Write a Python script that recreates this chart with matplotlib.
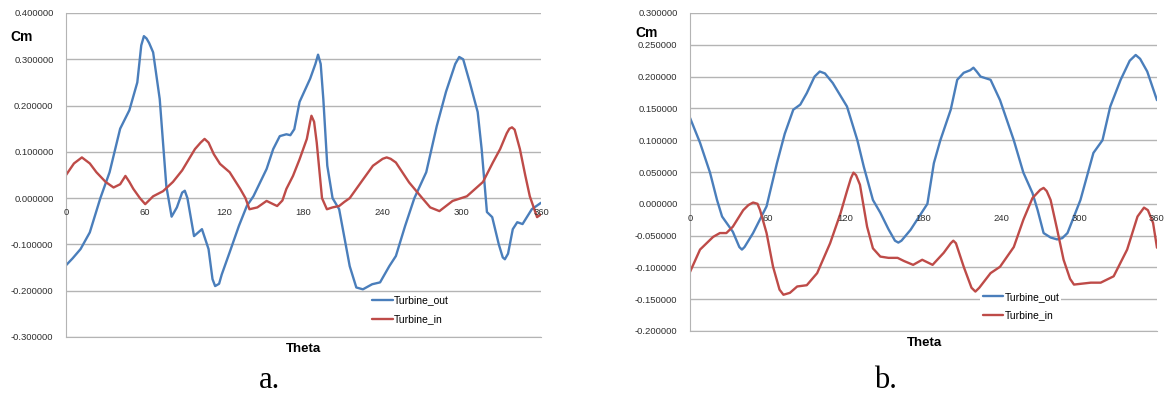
import matplotlib.pyplot as plt

# --- grafico a: Cm x Theta ---
theta_a_out = [0, 5, 11, 18, 26, 33, 41, 48, 54, 57, 59, 61, 63, 66, 71, 76, 80, 84,
               88, 90, 92, 97, 103, 108, 111, 113, 116, 118, 124, 131, 137, 142, 152,
               157, 162, 167, 170, 173, 177, 185, 189, 191, 193, 195, 198, 202, 207,
               215, 220, 225, 232, 238, 245, 250, 257, 264, 273, 281, 288, 295, 298,
               301, 306, 312, 315, 319, 323, 328, 331, 332.6, 335, 338.6, 342, 346,
               353, 360]
cm_a_out = [-0.145, -0.13, -0.11, -0.074, 0.0, 0.056, 0.15, 0.19, 0.25, 0.33, 0.35,
            0.345, 0.335, 0.315, 0.214, 0.026, -0.04, -0.02, 0.012, 0.016, 0.0,
            -0.082, -0.067, -0.11, -0.175, -0.19, -0.185, -0.165, -0.117, -0.06,
            -0.017, 0.004, 0.063, 0.106, 0.134, 0.138, 0.136, 0.149, 0.208, 0.258,
            0.29, 0.31, 0.29, 0.214, 0.07, 0.0, -0.024, -0.147, -0.193, -0.197,
            -0.186, -0.182, -0.147, -0.125, -0.06, 0.0, 0.056, 0.156, 0.23, 0.29,
            0.305, 0.3, 0.25, 0.186, 0.106, -0.03, -0.041, -0.1, -0.128, -0.132,
            -0.12, -0.067, -0.052, -0.056, -0.024, -0.01]

theta_a_in = [0, 6, 12, 18, 23, 30, 36, 41, 45, 48, 51, 56, 60, 66, 73.5, 81, 88,
              97.7, 102, 105, 108, 112, 116.7, 124, 132, 136, 139, 145, 152, 157, 160,
              164, 167, 172, 177, 182.5, 185, 186, 188, 190, 194, 197.7, 202, 207, 211,
              215, 225, 232.6, 240, 243, 246, 250, 260, 270, 276, 283, 293, 303.8, 316,
              323.5, 329, 334, 336, 338, 340, 344, 348, 351.5, 357, 360]
cm_a_in = [0.05, 0.075, 0.088, 0.075, 0.056, 0.035, 0.023, 0.03, 0.048, 0.035, 0.02,
           0.0, -0.013, 0.004, 0.015, 0.035, 0.06, 0.106, 0.12, 0.128, 0.12, 0.095,
           0.074, 0.056, 0.02, 0.0, -0.024, -0.02, -0.006, -0.013, -0.017, -0.005, 0.02,
           0.048, 0.084, 0.128, 0.165, 0.178, 0.165, 0.12, 0.0, -0.024, -0.02, -0.017,
           -0.008, 0.0, 0.04, 0.07, 0.085, 0.088, 0.085, 0.077, 0.034, 0.0, -0.02,
           -0.028, -0.006, 0.004, 0.035, 0.077, 0.106, 0.14, 0.15, 0.153, 0.148, 0.106,
           0.05, 0.004, -0.041, -0.035]

# --- grafico b ---
theta_b_out = [0, 7.7, 15.4, 20.8, 24.7, 33, 38, 40, 42, 48.6, 59, 67, 73, 79.6, 85,
               90, 96, 100, 104, 110, 121, 129, 134, 141, 146.7, 153, 158, 160.6, 163,
               170, 183, 188, 193, 201, 206, 211, 216, 218.5, 221, 224, 231.7, 239,
               249.6, 257, 264, 268, 272.6, 278, 283, 287, 291, 301, 311, 318, 324, 332,
               339, 343.6, 347, 352.5, 360]
cm_b_out = [0.135, 0.096, 0.049, 0.006, -0.02, -0.044, -0.068, -0.072, -0.068, -0.046,
            -0.004, 0.064, 0.11, 0.148, 0.156, 0.174, 0.2, 0.208, 0.205, 0.19, 0.153,
            0.1, 0.058, 0.006, -0.014, -0.04, -0.058, -0.061, -0.058, -0.041, 0.0,
            0.064, 0.1, 0.148, 0.195, 0.206, 0.21, 0.214, 0.208, 0.2, 0.195, 0.163,
            0.1, 0.049, 0.017, -0.01, -0.046, -0.053, -0.056, -0.054, -0.046, 0.006,
            0.08, 0.1, 0.153, 0.195, 0.225, 0.234, 0.228, 0.208, 0.163]

theta_b_in = [0, 7.7, 17.8, 23, 28, 33, 41, 45, 48.6, 52, 54, 59, 64, 69, 72, 77,
              82.6, 90, 98, 108, 116, 121, 124, 126, 128, 131, 136.5, 141, 146.7, 153,
              160, 165, 172, 179, 187, 195.6, 201, 203, 205, 211, 217, 220, 223, 231.7,
              239, 249.6, 257, 264, 270, 272.6, 275, 278, 283, 288, 293, 296, 309, 316.6,
              326.6, 337, 345, 350, 353, 357, 360]
cm_b_in = [-0.107, -0.072, -0.052, -0.046, -0.046, -0.036, -0.01, -0.002, 0.002,
           0.0, -0.01, -0.046, -0.099, -0.135, -0.143, -0.14, -0.13, -0.128, -0.109,
           -0.062, -0.015, 0.02, 0.04, 0.049, 0.045, 0.03, -0.036, -0.07, -0.083,
           -0.085, -0.085, -0.09, -0.096, -0.088, -0.096, -0.077, -0.062, -0.058,
           -0.062, -0.099, -0.132, -0.138, -0.132, -0.109, -0.099, -0.068, -0.025,
           0.009, 0.022, 0.025, 0.02, 0.006, -0.04, -0.088, -0.118, -0.127, -0.124,
           -0.124, -0.114, -0.072, -0.02, -0.006, -0.01, -0.03, -0.069]

xticks = [0, 60, 120, 180, 240, 300, 360]
yticks_a = [-0.3, -0.2, -0.1, 0.0, 0.1, 0.2, 0.3, 0.4]
yticks_b = [-0.2, -0.15, -0.1, -0.05, 0.0, 0.05, 0.1, 0.15, 0.2, 0.25, 0.3]

azul = '#4a7ebb'
vermelho = '#be4b48'
cinza = '#b4b4b4'

plt.rcParams['font.family'] = ['Liberation Sans', 'DejaVu Sans']

fig = plt.figure(figsize=(11.67, 4.0), dpi=100)
ax_a = fig.add_axes([0.0566, 0.1575, 0.407, 0.81])
ax_b = fig.add_axes([0.5913, 0.1725, 0.4001, 0.795])


def monta_eixo(ax, yticks, leg_pos):
    ax.set_xlim(0, 360)
    ax.set_ylim(yticks[0], yticks[-1])
    ax.set_yticks(yticks)
    ax.set_yticklabels(['%.6f' % v for v in yticks], fontsize=6.8, color='#303030')
    ax.set_xticks([])
    ax.tick_params(axis='y', length=0, pad=9)
    ax.grid(axis='y', color=cinza, lw=1.0)
    ax.set_axisbelow(True)
    for lado in ['top', 'right']:
        ax.spines[lado].set_visible(False)
    ax.spines['left'].set_color(cinza)
    ax.spines['bottom'].set_color(cinza)
    # rotulos do eixo x logo abaixo da linha do zero
    for t in xticks:
        ax.annotate(str(t), (t, 0), xytext=(0, -10.5), textcoords='offset points',
                    ha='center', va='center', fontsize=6.8, color='#303030')
    leg = ax.legend(loc='upper left', bbox_to_anchor=leg_pos, fontsize=7.5,
                    frameon=True, borderpad=0.2, borderaxespad=0, handlelength=2.0,
                    handletextpad=0.1, labelspacing=0.85)
    leg.get_frame().set_facecolor('white')
    leg.get_frame().set_edgecolor('none')
    leg.get_frame().set_alpha(1)


estilo = dict(lw=1.7, solid_joinstyle='round', solid_capstyle='round')

ax_a.plot(theta_a_out, cm_a_out, color=azul, label='Turbine_out', **estilo)
ax_a.plot(theta_a_in, cm_a_in, color=vermelho, label='Turbine_in', **estilo)
monta_eixo(ax_a, yticks_a, (0.64, 0.135))

ax_b.plot(theta_b_out, cm_b_out, color=azul, label='Turbine_out', **estilo)
ax_b.plot(theta_b_in, cm_b_in, color=vermelho, label='Turbine_in', **estilo)
monta_eixo(ax_b, yticks_b, (0.622, 0.13))

# titulos dos eixos (estilo Excel)
fig.text(10 / 1167, 1 - 37 / 400, 'Cm', fontsize=10, fontweight='bold', va='center')
fig.text(304 / 1167, 1 - 349 / 400, 'Theta', fontsize=9.5, fontweight='bold',
         ha='center', va='center')
fig.text(635 / 1167, 1 - 33 / 400, 'Cm', fontsize=10, fontweight='bold', va='center')
fig.text(924 / 1167, 1 - 343 / 400, 'Theta', fontsize=9.5, fontweight='bold',
         ha='center', va='center')

# identificacao dos graficos
fig.text(270 / 1167, 1 - 380 / 400, 'a.', fontsize=22, family='Liberation Serif',
         ha='center', va='center')
fig.text(885 / 1167, 1 - 380 / 400, 'b.', fontsize=22, family='Liberation Serif',
         ha='center', va='center')

fig.savefig('out.png', dpi=100)
